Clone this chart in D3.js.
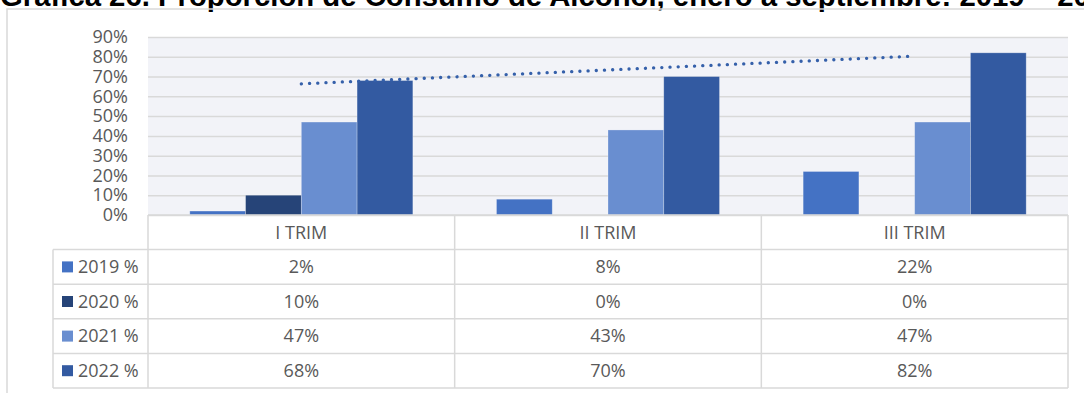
<!DOCTYPE html>
<html>
<head>
<meta charset="utf-8">
<script src="https://cdn.jsdelivr.net/npm/d3@7"></script>
<style>
  body { margin: 0; background: #fff; }
  text { font-family: "Open Sans", sans-serif; }
</style>
</head>
<body>
<div id="chart"></div>
<script>
// data
const categories = ["I TRIM", "II TRIM", "III TRIM"];
const seriesNames = ["2019 %", "2020 %", "2021 %", "2022 %"];
const v2019 = [0.02, 0.08, 0.22];
const v2020 = [0.10, 0.00, 0.00];
const v2021 = [0.47, 0.43, 0.47];
const v2022 = [0.68, 0.70, 0.82];
const yTicks = [0, 0.1, 0.2, 0.3, 0.4, 0.5, 0.6, 0.7, 0.8, 0.9];
const colors = ["#4472c4", "#264478", "#698ed0", "#335aa1"];
const title = "Gráfica  26. Proporción de Consumo de Alcohol, enero a septiembre: 2019 – 2022";

const series = [v2019, v2020, v2021, v2022];

const W = 1084, H = 393;
const plot = { left: 148, right: 1068, top: 37, bottom: 215 };
const tableBottom = 388, keyColLeft = 53;
const grid = "#d9d9d9", txt = "#595959";

const svg = d3.select("#chart").append("svg")
    .attr("width", W)
    .attr("height", H);

// title (cut at top like in the source)
svg.append("text")
    .attr("x", 0)
    .attr("y", 6)
    .style("font-family", "'Liberation Sans', Arial, sans-serif")
    .attr("font-weight", "bold")
    .attr("font-size", 29.3)
    .attr("fill", "#000")
    .text(title);

// outer chart border
svg.append("path")
    .attr("d", `M7,${H} L7,9 L${W},9`)
    .attr("fill", "none")
    .attr("stroke", grid)
    .attr("stroke-width", 1.5);

// scales
const x = d3.scaleBand()
    .domain(categories)
    .range([plot.left, plot.right]);

const x1 = d3.scaleBand()
    .domain(seriesNames)
    .range([0, x.bandwidth()])
    .paddingOuter(0.75);

const y = d3.scaleLinear()
    .domain([0, 0.9])
    .range([plot.bottom, plot.top]);

// plot background
svg.append("rect")
    .attr("x", plot.left)
    .attr("y", plot.top)
    .attr("width", plot.right - plot.left)
    .attr("height", plot.bottom - plot.top)
    .attr("fill", "#f2f3f8");

// gridlines + y labels
const yAxis = svg.append("g")
    .attr("transform", `translate(${plot.left},0)`)
    .call(d3.axisLeft(y)
        .tickValues(yTicks)
        .tickFormat(d3.format(".0%"))
        .tickSize(-(plot.right - plot.left))
        .tickPadding(20));
yAxis.select(".domain").remove();
yAxis.selectAll(".tick line")
    .attr("stroke", grid)
    .attr("stroke-width", 1.5);
yAxis.selectAll(".tick text")
    .attr("fill", txt)
    .attr("font-size", 18)
    .style("font-family", "'Open Sans', sans-serif");

// bars
const groups = svg.append("g")
    .selectAll("g")
    .data(series)
    .join("g")
    .attr("fill", (d, i) => colors[i]);

groups.selectAll("rect")
    .data((vals, i) => vals.map((v, j) => ({ v: v, s: seriesNames[i], c: categories[j] })))
    .join("rect")
    .attr("x", d => x(d.c) + x1(d.s))
    .attr("y", d => y(d.v))
    .attr("width", x1.bandwidth())
    .attr("height", d => y(0) - y(d.v))
    .attr("stroke", "#ffffff")
    .attr("stroke-opacity", 0.35)
    .attr("stroke-width", 0.75);

// linear trend of 2022 series
const xs = [1, 2, 3];
const mx = d3.mean(xs), my = d3.mean(v2022);
const slope = d3.sum(xs, (k, i) => (k - mx) * (v2022[i] - my)) / d3.sum(xs, k => (k - mx) * (k - mx));
const trend = categories.map((c, i) => ({ c: c, v: my + slope * (xs[i] - mx) }));

svg.append("path")
    .datum([trend[0], trend[trend.length - 1]])
    .attr("fill", "none")
    .attr("stroke", "#3560aa")
    .attr("stroke-width", 3.3)
    .attr("stroke-linecap", "round")
    .attr("stroke-dasharray", "0.1 8.1")
    .attr("d", d3.line()
        .x(d => x(d.c) + x.bandwidth() / 2)
        .y(d => y(d.v)));

// data table
const rows = d3.scaleBand()
    .domain(["head"].concat(seriesNames))
    .range([plot.bottom, tableBottom]);

const table = svg.append("g")
    .attr("stroke", grid)
    .attr("stroke-width", 1.5)
    .attr("fill", "none");

// horizontal lines
table.selectAll("line.h")
    .data(rows.domain().concat(["end"]))
    .join("line")
    .attr("class", "h")
    .attr("x1", d => (d === "head" ? plot.left : keyColLeft))
    .attr("x2", plot.right)
    .attr("y1", d => (d === "end" ? tableBottom : rows(d)))
    .attr("y2", d => (d === "end" ? tableBottom : rows(d)));

// vertical lines
table.append("line")
    .attr("x1", keyColLeft).attr("x2", keyColLeft)
    .attr("y1", rows(seriesNames[0])).attr("y2", tableBottom);
table.selectAll("line.v")
    .data(categories.concat(["end"]))
    .join("line")
    .attr("class", "v")
    .attr("x1", d => (d === "end" ? plot.right : x(d)))
    .attr("x2", d => (d === "end" ? plot.right : x(d)))
    .attr("y1", plot.bottom)
    .attr("y2", tableBottom);

// header labels
svg.append("g")
    .selectAll("text")
    .data(categories)
    .join("text")
    .attr("x", d => x(d) + x.bandwidth() / 2)
    .attr("y", rows("head") + rows.bandwidth() / 2)
    .attr("dy", "0.35em")
    .attr("text-anchor", "middle")
    .attr("font-size", 18)
    .attr("fill", txt)
    .text(d => d);

// legend keys + names
const legend = svg.append("g")
    .selectAll("g")
    .data(seriesNames)
    .join("g")
    .attr("transform", d => `translate(${keyColLeft + 9},${rows(d) + rows.bandwidth() / 2})`);
legend.append("rect")
    .attr("x", 0)
    .attr("y", -5.5)
    .attr("width", 11)
    .attr("height", 11)
    .attr("fill", (d, i) => colors[i]);
legend.append("text")
    .attr("x", 16)
    .attr("dy", "0.35em")
    .attr("font-size", 18)
    .attr("fill", txt)
    .text(d => d);

// values
const fmt = d3.format(".0%");
series.forEach((vals, i) => {
    svg.append("g")
        .selectAll("text")
        .data(vals)
        .join("text")
        .attr("x", (d, j) => x(categories[j]) + x.bandwidth() / 2)
        .attr("y", rows(seriesNames[i]) + rows.bandwidth() / 2)
        .attr("dy", "0.35em")
        .attr("text-anchor", "middle")
        .attr("font-size", 18)
        .attr("fill", txt)
        .text(d => fmt(d));
});
</script>
</body>
</html>
